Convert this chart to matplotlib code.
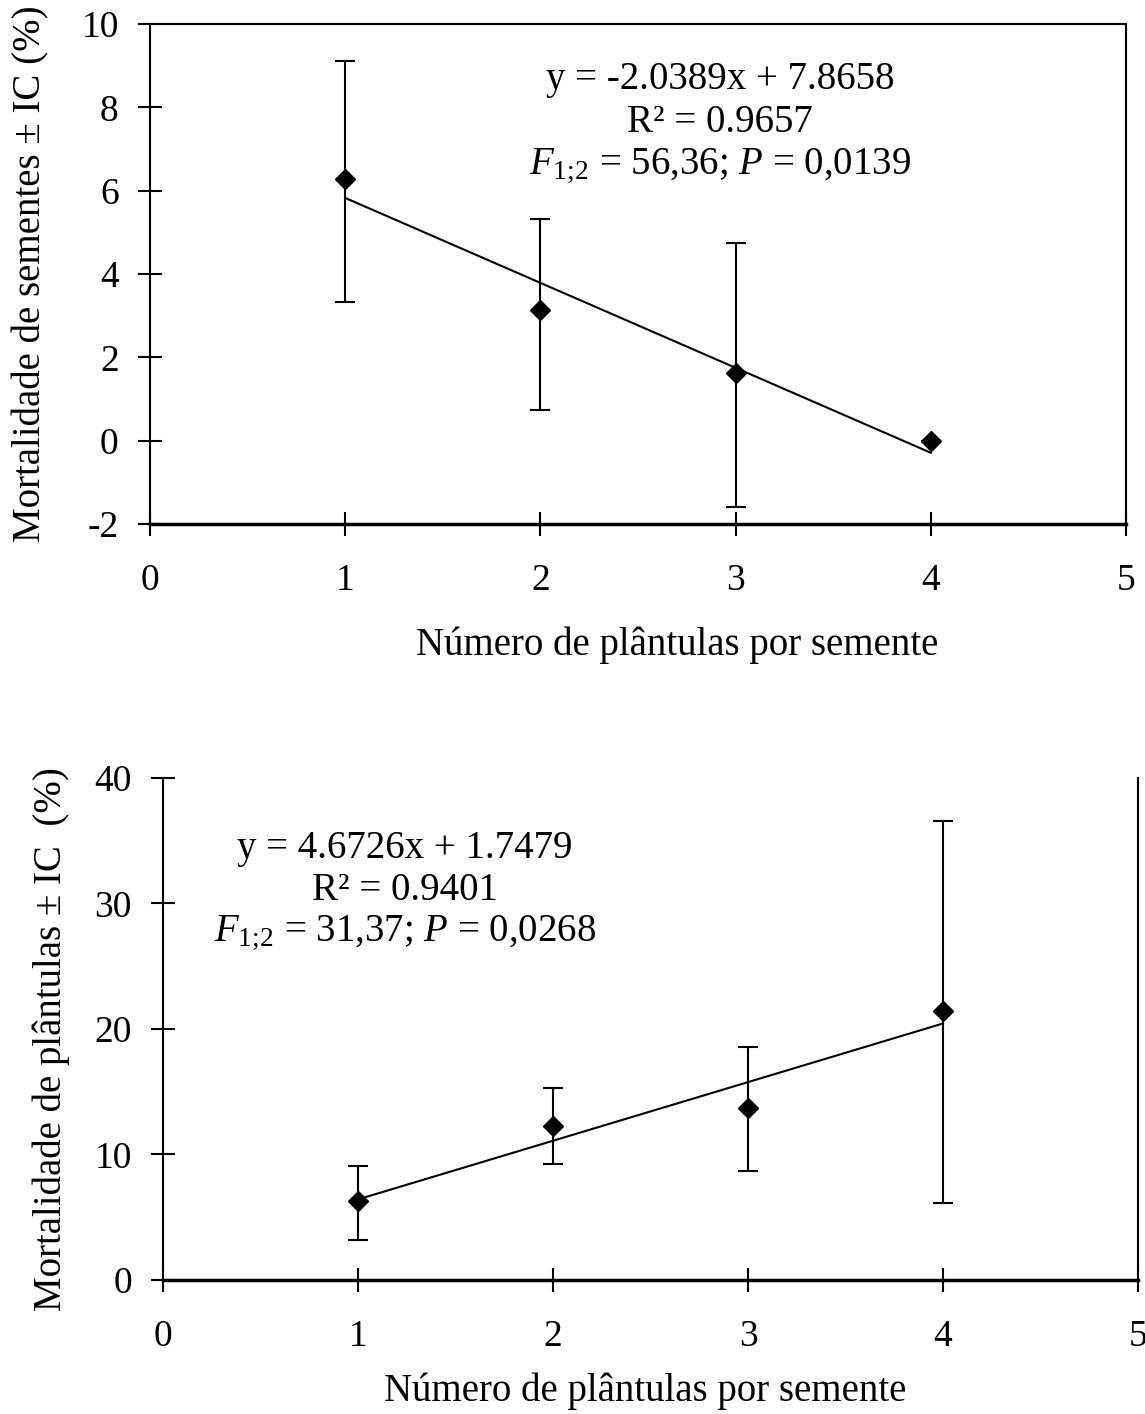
import numpy as np
import matplotlib.pyplot as plt

plt.rcParams['font.family'] = 'Liberation Serif'
plt.rcParams['mathtext.fontset'] = 'custom'
plt.rcParams['mathtext.rm'] = 'Liberation Serif'
plt.rcParams['mathtext.it'] = 'Liberation Serif:italic'
plt.rcParams['axes.unicode_minus'] = False

# Seed mortality (top panel)
x_seed = [1, 2, 3, 4]
seed_mean = [6.28, 3.14, 1.63, 0.0]
seed_lo = [3.33, 0.74, -1.60, 0.0]
seed_hi = [9.11, 5.32, 4.75, 0.0]
seed_fit = (-2.0389, 7.8658)
seed_text = ["y = -2.0389x + 7.8658", "R² = 0.9657",
             "$\\mathit{F}_{1;\\!2}$ = 56,36; $\\mathit{P}$ = 0,0139"]

# Seedling mortality (bottom panel)
x_sdl = [1, 2, 3, 4]
sdl_mean = [6.3, 12.3, 13.7, 21.4]
sdl_lo = [3.2, 9.2, 8.7, 6.1]
sdl_hi = [9.1, 15.3, 18.6, 36.6]
sdl_fit = (4.6726, 1.7479)
sdl_text = ["y = 4.6726x + 1.7479", "R² = 0.9401",
            "$\\mathit{F}_{1;\\!2}$ = 31,37; $\\mathit{P}$ = 0,0268"]

FS = 27
LFS = 28


def panel(ax, x, mean, lo, hi, fit, ylim, yticks, ylabel, txt, tx, ty, dy):
    x = np.array(x)
    mean = np.array(mean)
    err = [mean - np.array(lo), np.array(hi) - mean]
    ax.errorbar(x, mean, yerr=err, fmt='none', ecolor='black', elinewidth=1.5,
                capsize=7, capthick=1.5, zorder=2)
    ax.plot(x, mean, 'D', color='black', markersize=10.5, zorder=3)
    xf = np.array([x[0], x[-1]])
    ax.plot(xf, fit[0] * xf + fit[1], color='black', lw=1.5, zorder=2)
    ax.set_xlim(0, 5)
    ax.set_ylim(*ylim)
    ax.set_xticks(range(6))
    ax.set_yticks(yticks)
    ax.tick_params(direction='inout', length=17, width=1.5, labelsize=FS)
    ax.tick_params(axis='y', pad=14)
    ax.tick_params(axis='x', pad=20)
    for s in ax.spines.values():
        s.set_linewidth(1.5)
    ax.spines['bottom'].set_linewidth(2.5)
    ax.set_ylabel(ylabel, fontsize=LFS)
    for i, t in enumerate(txt):
        ax.text(tx, ty - i * dy, t, fontsize=LFS, ha='center', va='center')


fig = plt.figure(figsize=(11.45, 14.14), dpi=100)

ax1 = fig.add_axes([0.1310, 0.6294, 0.8524, 0.3536])
panel(ax1, x_seed, seed_mean, seed_lo, seed_hi, seed_fit, (-2, 10),
      range(-2, 11, 2), 'Mortalidade de sementes ± IC (%)', seed_text,
      2.92, 8.68, 1.05)
ax1.set_xlabel('Número de plântulas por semente', fontsize=LFS)
ax1.xaxis.set_label_coords(0.54, -0.205)
ax1.yaxis.set_label_coords(-0.103, 0.5)

ax2 = fig.add_axes([0.1424, 0.0948, 0.8515, 0.3550])
panel(ax2, x_sdl, sdl_mean, sdl_lo, sdl_hi, sdl_fit, (0, 40),
      range(0, 41, 10), 'Mortalidade de plântulas ± IC  (%)', sdl_text,
      1.24, 34.4, 3.4)
ax2.spines['top'].set_visible(False)
ax2.set_xlabel('Número de plântulas por semente', fontsize=LFS)
ax2.xaxis.set_label_coords(0.495, -0.185)
ax2.yaxis.set_label_coords(-0.095, 0.48)

fig.savefig('out.png', dpi=100)
